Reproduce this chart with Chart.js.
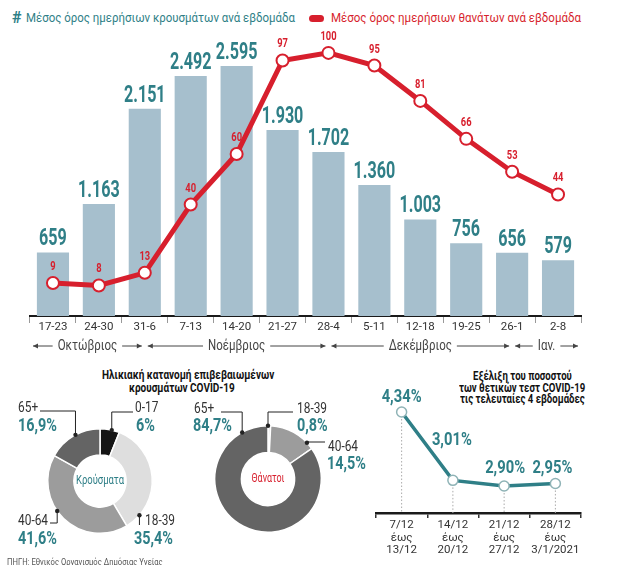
<!DOCTYPE html>
<html><head><meta charset="utf-8">
<script src="https://cdn.jsdelivr.net/npm/chart.js@4.4.1/dist/chart.umd.min.js"></script>
<style>
html,body{margin:0;padding:0;background:#fff}
body{width:617px;height:565px;overflow:hidden;position:relative;font-family:Roboto,'Liberation Sans',sans-serif}
.abs{position:absolute;white-space:nowrap;line-height:1}
canvas{position:absolute}
</style></head><body>

<div class="abs" style="left:12px;top:10px;font-size:16px;font-weight:bold;color:#2f7f87">#</div>
<div class="abs" id="legCases" style="left:26px;top:11px;font-size:13.5px;color:#2f7f87"></div>
<div class="abs" style="left:309px;top:15px;width:15px;height:7px;border-radius:4px;background:#d71f2d"></div>
<div class="abs" id="legDeaths" style="left:331px;top:11px;font-size:13.5px;color:#d71f2d"></div>

<canvas id="main" width="617" height="360" style="left:0;top:0"></canvas>

<canvas id="dCases" width="185" height="160" style="left:0;top:400px"></canvas>
<canvas id="dDeaths" width="180" height="160" style="left:185px;top:400px"></canvas>
<div id="texts"></div>

<canvas id="pos" width="252" height="195" style="left:365px;top:370px"></canvas>

<script>
// ---------- DATA ----------
const weeks = ['17-23','24-30','31-6','7-13','14-20','21-27','28-4','5-11','12-18','19-25','26-1','2-8'];
const cases = [659,1163,2151,2492,2595,1930,1702,1360,1003,756,656,579];
const deaths = [9,8,13,40,60,97,100,95,81,66,53,44];
const months = ['Οκτώβριος','Νοέμβριος','Δεκέμβριος','Ιαν.'];
const monthStart = [-0.5, 2, 6, 10];   // category index where each month starts
const monthEnd = [2, 6, 10, 11.5];      // category index where each month ends
const legendCases = 'Μέσος όρος ημερήσιων κρουσμάτων ανά εβδομάδα';
const legendDeaths = 'Μέσος όρος ημερήσιων θανάτων ανά εβδομάδα';

const ageGroups = ['0-17','18-39','40-64','65+'];
const casesShare = [6, 35.4, 41.6, 16.9];
const deathsShare = [0, 0.8, 14.5, 84.7];
const ageTitle = ['Ηλικιακή κατανομή επιβεβαιωμένων','κρουσμάτων COVID-19'];

const testWeeks = [['7/12','έως','13/12'],['14/12','έως','20/12'],['21/12','έως','27/12'],['28/12','έως','3/1/2021']];
const positivity = [4.34, 3.01, 2.90, 2.95];
const posTitle = ['Εξέλιξη του ποσοστού','των θετικών τεστ COVID-19','τις τελευταίες 4 εβδομάδες'];
const sourceText = 'ΠΗΓΗ: Εθνικός Οργανισμός Δημόσιας Υγείας';

// ---------- STYLE ----------
const FONT = "Roboto,'Liberation Sans',sans-serif";
const TEAL = '#2f7f87';
const RED = '#d71f2d';
const BAR = '#a6bfcd';
Chart.defaults.font.family = FONT;

const fmtInt = v => String(v).replace(/\B(?=(\d{3})+(?!\d))/g, '.');
const fmtPct = v => v.toFixed(2).replace('.', ',') + '%';
const fmtShare = v => String(v).replace('.', ',') + '%';

// condensed HTML text helper: squeeze horizontally by factor sx
const texts = document.getElementById('texts');
function addText(str, css, sx, anchorX, align) {
  const d = document.createElement('div');
  d.className = 'abs';
  d.style.cssText = css;
  d.textContent = str;
  texts.appendChild(d);
  const w = d.getBoundingClientRect().width;
  d.style.transformOrigin = 'left top';
  d.style.transform = `scaleX(${sx})`;
  if (align === 'center') d.style.left = (anchorX - w * sx / 2) + 'px';
  return d;
}
function fitWidth(id, target) {
  const d = document.getElementById(id);
  const w = d.getBoundingClientRect().width;
  d.style.transformOrigin = 'left top';
  d.style.transform = `scaleX(${target / w})`;
}
document.getElementById('legCases').textContent = legendCases;
document.getElementById('legDeaths').textContent = legendDeaths;
fitWidth('legCases', 269);
fitWidth('legDeaths', 250);

// titles
const T = 'font-weight:bold;color:#111;';
addText(ageTitle[0], T + 'top:369px;font-size:12.5px;', 0.8, 188, 'center');
addText(ageTitle[1], T + 'top:382px;font-size:12.5px;', 0.8, 182, 'center');
posTitle.forEach((t, i) => addText(t, T + `top:${370 + i * 11.7}px;font-size:12px;`, 0.8, 522, 'center'));
addText(sourceText, 'left:7px;top:558px;font-size:9px;color:#555;', 0.85);

// canvas condensed text
function cText(ctx, str, x, y, sx) {
  ctx.save(); ctx.translate(x, y); ctx.scale(sx, 1); ctx.fillText(str, 0, 0); ctx.restore();
}

// ---------- MAIN CHART ----------
function arrowHead(ctx, x, y, dir) {
  ctx.beginPath();
  ctx.moveTo(x, y);
  ctx.lineTo(x - dir * 5, y - 2.5);
  ctx.lineTo(x - dir * 5, y + 2.5);
  ctx.closePath();
  ctx.fill();
}
const mainLabels = {
  id: 'mainLabels',
  afterDatasetsDraw(chart) {
    const ctx = chart.ctx;
    ctx.save();
    ctx.textAlign = 'center';
    ctx.textBaseline = 'middle';
    const barMeta = chart.getDatasetMeta(1);
    ctx.font = 'bold 23px ' + FONT;
    ctx.fillStyle = TEAL;
    barMeta.data.forEach((el, i) => cText(ctx, fmtInt(cases[i]), el.x, el.y - 13, 0.7));
    const lineMeta = chart.getDatasetMeta(0);
    ctx.font = 'bold 12px ' + FONT;
    ctx.fillStyle = RED;
    lineMeta.data.forEach((el, i) => cText(ctx, String(deaths[i]), el.x, el.y - 16, 0.78));
    // month row
    const xs = chart.scales.x;
    const y = 346;
    const sx = 0.82;
    ctx.font = '14px ' + FONT;
    ctx.fillStyle = '#444';
    ctx.strokeStyle = '#444';
    ctx.lineWidth = 1;
    months.forEach((m, i) => {
      const x1 = xs.getPixelForValue(monthStart[i]) + 3;
      const x2 = xs.getPixelForValue(monthEnd[i]) - 3;
      const cx = (x1 + x2) / 2;
      const w = ctx.measureText(m).width * sx;
      cText(ctx, m, cx, y, sx);
      ctx.beginPath();
      ctx.moveTo(x1, y); ctx.lineTo(cx - w / 2 - 5, y);
      ctx.moveTo(cx + w / 2 + 5, y); ctx.lineTo(x2, y);
      ctx.stroke();
      arrowHead(ctx, x1, y, -1);
      arrowHead(ctx, x2, y, 1);
    });
    ctx.restore();
  }
};

new Chart(document.getElementById('main'), {
  type: 'bar',
  data: {
    labels: weeks,
    datasets: [
      { type: 'line', data: deaths, yAxisID: 'yD', borderColor: RED, borderWidth: 5,
        pointRadius: 6, pointHoverRadius: 6, pointBackgroundColor: '#fff', pointBorderColor: RED,
        pointBorderWidth: 2, tension: 0, order: 0 },
      { type: 'bar', data: cases, yAxisID: 'yC', backgroundColor: BAR,
        barPercentage: 0.7, categoryPercentage: 1, order: 1 }
    ]
  },
  options: {
    responsive: false, animation: false, devicePixelRatio: 1,
    layout: { autoPadding: false, padding: { left: 30, right: 36, top: 40, bottom: 0 } },
    plugins: { legend: { display: false }, tooltip: { enabled: false } },
    scales: {
      x: {
        offset: true,
        grid: { offset: true, drawOnChartArea: false, drawTicks: true, tickLength: 7, color: '#999', lineWidth: 1 },
        border: { display: true, color: '#1a1a1a', width: 2 },
        ticks: { color: '#333', font: { size: 11.5 }, padding: -3, maxRotation: 0, autoSkip: false },
        afterFit(s) { s.height = 44; }
      },
      yC: { display: false, min: 0, max: 2865 },
      yD: { display: false, min: -4.08, max: 105.1 }
    }
  },
  plugins: [mainLabels]
});

// ---------- DONUTS ----------
const GRAYS = ['#151515', '#dedede', '#9c9c9c', '#646464'];
function donut(id, offX, offY, pad, values, centerText, centerColor, centerWidth, callouts) {
  const plugin = {
    id: 'donutDecor_' + id,
    afterDraw(chart) {
      const ctx = chart.ctx;
      const arc = chart.getDatasetMeta(0).data[0];
      const cx = arc.x, cy = arc.y, R = arc.outerRadius;
      ctx.save();
      ctx.textAlign = 'center'; ctx.textBaseline = 'middle';
      ctx.font = '12px ' + FONT;
      ctx.fillStyle = centerColor;
      cText(ctx, centerText, cx, cy, centerWidth / ctx.measureText(centerText).width);
      ctx.strokeStyle = '#222'; ctx.fillStyle = '#222'; ctx.lineWidth = 1;
      callouts.forEach(c => {
        const a = c.angle * Math.PI / 180;
        const dx = cx + R * Math.sin(a), dy = cy - R * Math.cos(a);
        const ey = c.elbowY - offY;
        ctx.beginPath();
        ctx.moveTo(dx, dy);
        ctx.lineTo(dx, ey);
        if (c.endX != null) ctx.lineTo(c.endX - offX, ey);
        ctx.stroke();
        ctx.beginPath(); ctx.arc(dx, dy, 2.2, 0, Math.PI * 2); ctx.fill();
      });
      ctx.restore();
    }
  };
  new Chart(document.getElementById(id), {
    type: 'doughnut',
    data: { labels: ageGroups, datasets: [{ data: values, backgroundColor: GRAYS, borderColor: '#fff', borderWidth: 1.5 }] },
    options: {
      responsive: false, animation: false, devicePixelRatio: 1, cutout: '50%',
      layout: { padding: pad },
      plugins: { legend: { display: false }, tooltip: { enabled: false } }
    },
    plugins: [plugin]
  });
}
donut('dCases', 0, 400, { left: 47, right: 32, top: 28, bottom: 26 }, casesShare, 'Κρούσματα', TEAL, 48, [
  { angle: 13, elbowY: 412, endX: 133 },
  { angle: 332, elbowY: 411, endX: 40 },
  { angle: 235, elbowY: 523, endX: 50 },
  { angle: 131, elbowY: 525, endX: null }
]);
donut('dDeaths', 185, 400, { left: 29, right: 43, top: 25, bottom: 27 }, deathsShare, 'Θάνατοι', RED, 33, [
  { angle: 331, elbowY: 412, endX: 221 },
  { angle: 0, elbowY: 412, endX: 293 },
  { angle: 47, elbowY: 442, endX: 325 }
]);

// donut labels (text from data arrays, placement here)
const labelPlaces = [
  { share: casesShare, idx: 3, x: 18, y: 407, px: 18, py: 425 },
  { share: casesShare, idx: 0, x: 135, y: 407, px: 136, py: 425 },
  { share: casesShare, idx: 2, x: 18, y: 520, px: 18, py: 538 },
  { share: casesShare, idx: 1, x: 145, y: 520, px: 134, py: 538 },
  { share: deathsShare, idx: 3, x: 194, y: 408, px: 193, py: 425 },
  { share: deathsShare, idx: 1, x: 297, y: 408, px: 297, py: 425 },
  { share: deathsShare, idx: 2, x: 328, y: 446, px: 327, py: 463 }
];
labelPlaces.forEach(p => {
  addText(ageGroups[p.idx], `left:${p.x}px;top:${p.y - 7}px;font-size:14px;color:#333;`, 0.85);
  addText(fmtShare(p.share[p.idx]), `left:${p.px}px;top:${p.py - 9}px;font-size:18px;font-weight:bold;color:${TEAL};`, 0.8);
});

// ---------- POSITIVITY LINE ----------
const posDecor = {
  id: 'posDecor',
  beforeDatasetsDraw(chart) {
    const ctx = chart.ctx;
    const meta = chart.getDatasetMeta(0);
    const bottom = chart.chartArea.bottom;
    ctx.save();
    ctx.strokeStyle = '#aaa'; ctx.lineWidth = 1; ctx.setLineDash([1.5, 2]);
    meta.data.forEach(el => { ctx.beginPath(); ctx.moveTo(el.x, el.y); ctx.lineTo(el.x, bottom); ctx.stroke(); });
    ctx.restore();
  },
  afterDatasetsDraw(chart, args, opts) {
    const ctx = chart.ctx;
    const meta = chart.getDatasetMeta(0);
    ctx.save();
    ctx.textAlign = 'center'; ctx.textBaseline = 'middle';
    ctx.font = 'bold 18px ' + FONT;
    ctx.fillStyle = TEAL;
    meta.data.forEach((el, i) => cText(ctx, fmtPct(positivity[i]), el.x + opts.dx[i], el.y - opts.dy[i], 0.82));
    ctx.restore();
  }
};
new Chart(document.getElementById('pos'), {
  type: 'line',
  data: { labels: testWeeks, datasets: [{ data: positivity, borderColor: TEAL, borderWidth: 3.5,
    pointRadius: 5, pointHoverRadius: 5, pointBackgroundColor: '#fff', pointBorderColor: '#8fb3b6',
    pointBorderWidth: 1.5, tension: 0 }] },
  options: {
    responsive: false, animation: false, devicePixelRatio: 1,
    layout: { autoPadding: false, padding: { left: 11, right: 36, top: 30, bottom: 0 } },
    plugins: { legend: { display: false }, tooltip: { enabled: false },
      posDecor: { dx: [0, -1, 1, -3], dy: [15, 40, 18, 15] } },
    scales: {
      x: {
        offset: true,
        grid: { offset: true, drawOnChartArea: false, tickLength: 5, color: '#333', lineWidth: 1.5 },
        border: { display: true, color: '#1a1a1a', width: 2.5 },
        ticks: { color: '#333', font: { size: 11.5, lineHeight: 1.09 }, padding: 1, maxRotation: 0, autoSkip: false },
        afterFit(s) { s.height = 52; }
      },
      y: { display: false, min: 2.375, max: 4.574 }
    }
  },
  plugins: [posDecor]
});
</script>
</body></html>
